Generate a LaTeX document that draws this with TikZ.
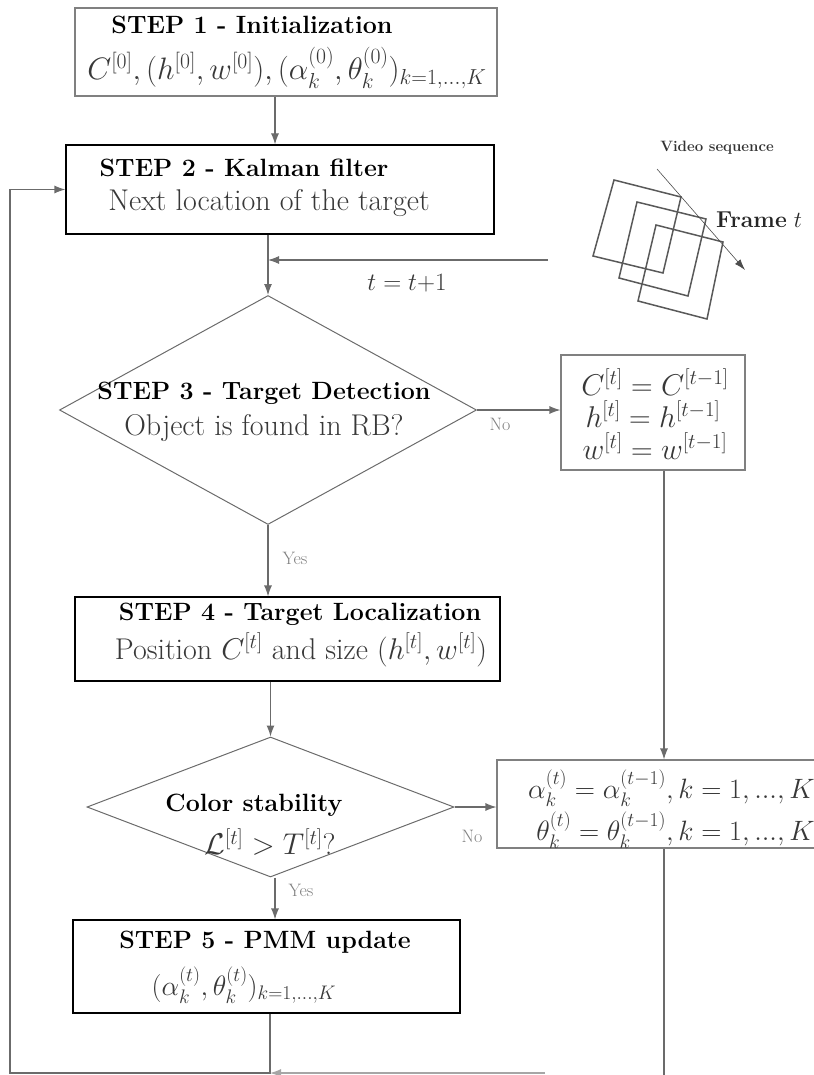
\documentclass[tikz,border=0pt]{standalone}
\usepackage{fix-cm}
\usepackage{fontspec}
\usepackage{amsmath}
\usetikzlibrary{shapes.geometric,arrows.meta}
\definecolor{linegray}{gray}{0.42}
\definecolor{boxgray}{gray}{0.5}
\definecolor{textgray}{gray}{0.22}
\definecolor{labgray}{gray}{0.5}
\definecolor{sqgray}{gray}{0.35}
\begin{document}
\begin{tikzpicture}[x=1pt,y=-1pt,
  arr/.style={draw=linegray, line width=1.1pt, -{Latex[length=11pt,width=8pt]}},
  ln/.style={draw=linegray, line width=1.1pt},
  gbox/.style={draw=boxgray, line width=1.1pt, fill=white, inner sep=0pt},
  kbox/.style={draw=black, line width=1.1pt, fill=white, inner sep=0pt},
  dia/.style={shape=diamond, draw=linegray, line width=1pt, inner sep=0pt},
  ttl/.style={font=\fontsize{25}{29}\selectfont\bfseries, inner sep=0pt},
  sub/.style={font=\fontsize{30}{34}\selectfont, text=textgray, inner sep=0pt},
  eq/.style={font=\fontsize{28}{32}\selectfont, text=textgray, inner sep=0pt},
  lab/.style={font=\fontsize{18}{20}\selectfont, text=labgray, inner sep=0pt}
]
\useasboundingbox (0,0) rectangle (813,1075);

% STEP 1
\node[gbox, minimum width=422pt, minimum height=88pt] (s1) at (286,52) {};
\node[ttl] (s1t) at (252,25) {STEP 1 - Initialization};
\node[sub, font=\fontsize{31}{34}\selectfont] (s1f) at (287,68) {$C^{[0]}, (h^{[0]}, w^{[0]}), (\alpha_k^{(0)}, \theta_k^{(0)})_{k=1,\ldots,K}$};

% STEP 2
\node[kbox, minimum width=428pt, minimum height=89pt] (s2) at (280,189.5) {};
\node[ttl] (s2t) at (244,168) {STEP 2 - Kalman filter};
\node[sub] (s2s) at (269,203) {Next location of the target};

% STEP 3 diamond
\node[dia, minimum width=417pt, minimum height=229pt] (d1) at (268,410) {};
\node[ttl] (d1t) at (264,393) {STEP 3 - Target Detection};
\node[sub] (d1s) at (264,428) {Object is found in RB?};

% right box 1
\node[gbox, minimum width=184pt, minimum height=115pt] (r1) at (653,412.5) {};
\node[sub] (r1a) at (655,382) {$C^{[t]} = C^{[t-1]}$};
\node[sub] (r1b) at (653,414) {$h^{[t]} = h^{[t-1]}$};
\node[sub] (r1c) at (655,446) {$w^{[t]} = w^{[t-1]}$};

% STEP 4
\node[kbox, minimum width=425pt, minimum height=84pt] (s4) at (287.5,639) {};
\node[ttl] (s4t) at (300,614) {STEP 4 - Target Localization};
\node[sub] (s4s) at (301,650) {Position $C^{[t]}$ and size $(h^{[t]}, w^{[t]})$};

% Colour stability diamond
\node[dia, minimum width=367pt, minimum height=140pt] (d2) at (270.5,807) {};
\node[ttl] (d2t) at (254,805) {Color stability};
\node[sub] (d2s) at (270,842) {$\mathcal{L}^{[t]} > T^{[t]}?$};

% alpha/theta box
\node[gbox, minimum width=333pt, minimum height=88pt] (ab) at (663.5,804) {};
\node[eq, anchor=east] (aba) at (815,788) {$\alpha_k^{(t)} = \alpha_k^{(t-1)}, k = 1, ..., K$};
\node[eq, anchor=east] (abb) at (815,830) {$\theta_k^{(t)} = \theta_k^{(t-1)}, k = 1, ..., K$};

% STEP 5
\node[kbox, minimum width=387pt, minimum height=93pt] (s5) at (266.5,966.5) {};
\node[ttl] (s5t) at (265,942) {STEP 5 - PMM update};
\node[eq] (s5f) at (244,985) {$(\alpha_k^{(t)}, \theta_k^{(t)})_{k=1,\ldots,K}$};

% helper coordinates
\coordinate (colA) at (275,0);
\coordinate (colB) at (270,0);
\coordinate (colR) at (664,0);
\coordinate (left) at (10,0);
\coordinate (bot) at (0,1073);
\coordinate (botR) at (664,1076);
\coordinate (fadeR) at (545,1073);
\coordinate (vid) at (548,260);

% connectors
\draw[arr] (s1.south -| colA) -- (s2.north -| colA);
\draw[arr] (s2.south -| d1.north) -- (d1.north);
\draw[arr] (vid) -- (vid -| d1.north);
\node[font=\fontsize{25}{30}\selectfont, text=textgray, inner sep=0pt] (tt) at (407,283) {$t = t{+}1$};

\draw[arr] (d1.east) -- (r1.west |- d1.east);
\node[lab] (no1) at (500,424) {No};
\draw[arr] (d1.south) -- (s4.north -| d1.south);
\node[lab] (yes1) at (295,558) {Yes};

\draw[arr] (r1.south -| colR) -- (ab.north -| colR);

\draw[arr] (s4.south -| d2.north) -- (d2.north);
\draw[arr] (d2.east) -- (ab.west |- d2.east);
\node[lab] (no2) at (472,836) {No};
\draw[arr] (d2.south -| colA) -- (s5.north -| colA);
\node[lab] (yes2) at (301,890) {Yes};

\draw[arr] (s5.south -| colB) -- (colB |- bot) -- (left |- bot) -- (left |- s2.west) -- (s2.west);
\draw[ln] (ab.south -| colR) -- (botR);
\draw[arr, draw=gray!70] (fadeR) -- (colB |- bot);

% video sequence
\node[font=\fontsize{15}{17}\selectfont\bfseries, text=black!80, inner sep=0pt] (vs) at (717,148) {Video sequence};
\begin{scope}[draw=sqgray, line width=1.5pt]
\draw (614,180) -- (681,197) -- (663,273) -- (593,256) -- cycle;
\draw (637,202) -- (706,219) -- (688,296) -- (619,278) -- cycle;
\draw (656,225) -- (723,242) -- (707,319) -- (638,301) -- cycle;
\end{scope}
\coordinate (va) at (657,169);
\coordinate (vb) at (745,270);
\draw[draw=black!70, line width=0.6pt, -{Latex[length=11pt,width=7pt]}] (va) -- (vb);
\node[font=\fontsize{23}{27}\selectfont, text=black!85, inner sep=0pt, anchor=west] (fr) at (716,220) {\textbf{Frame} $t$};
\end{tikzpicture}
\end{document}
